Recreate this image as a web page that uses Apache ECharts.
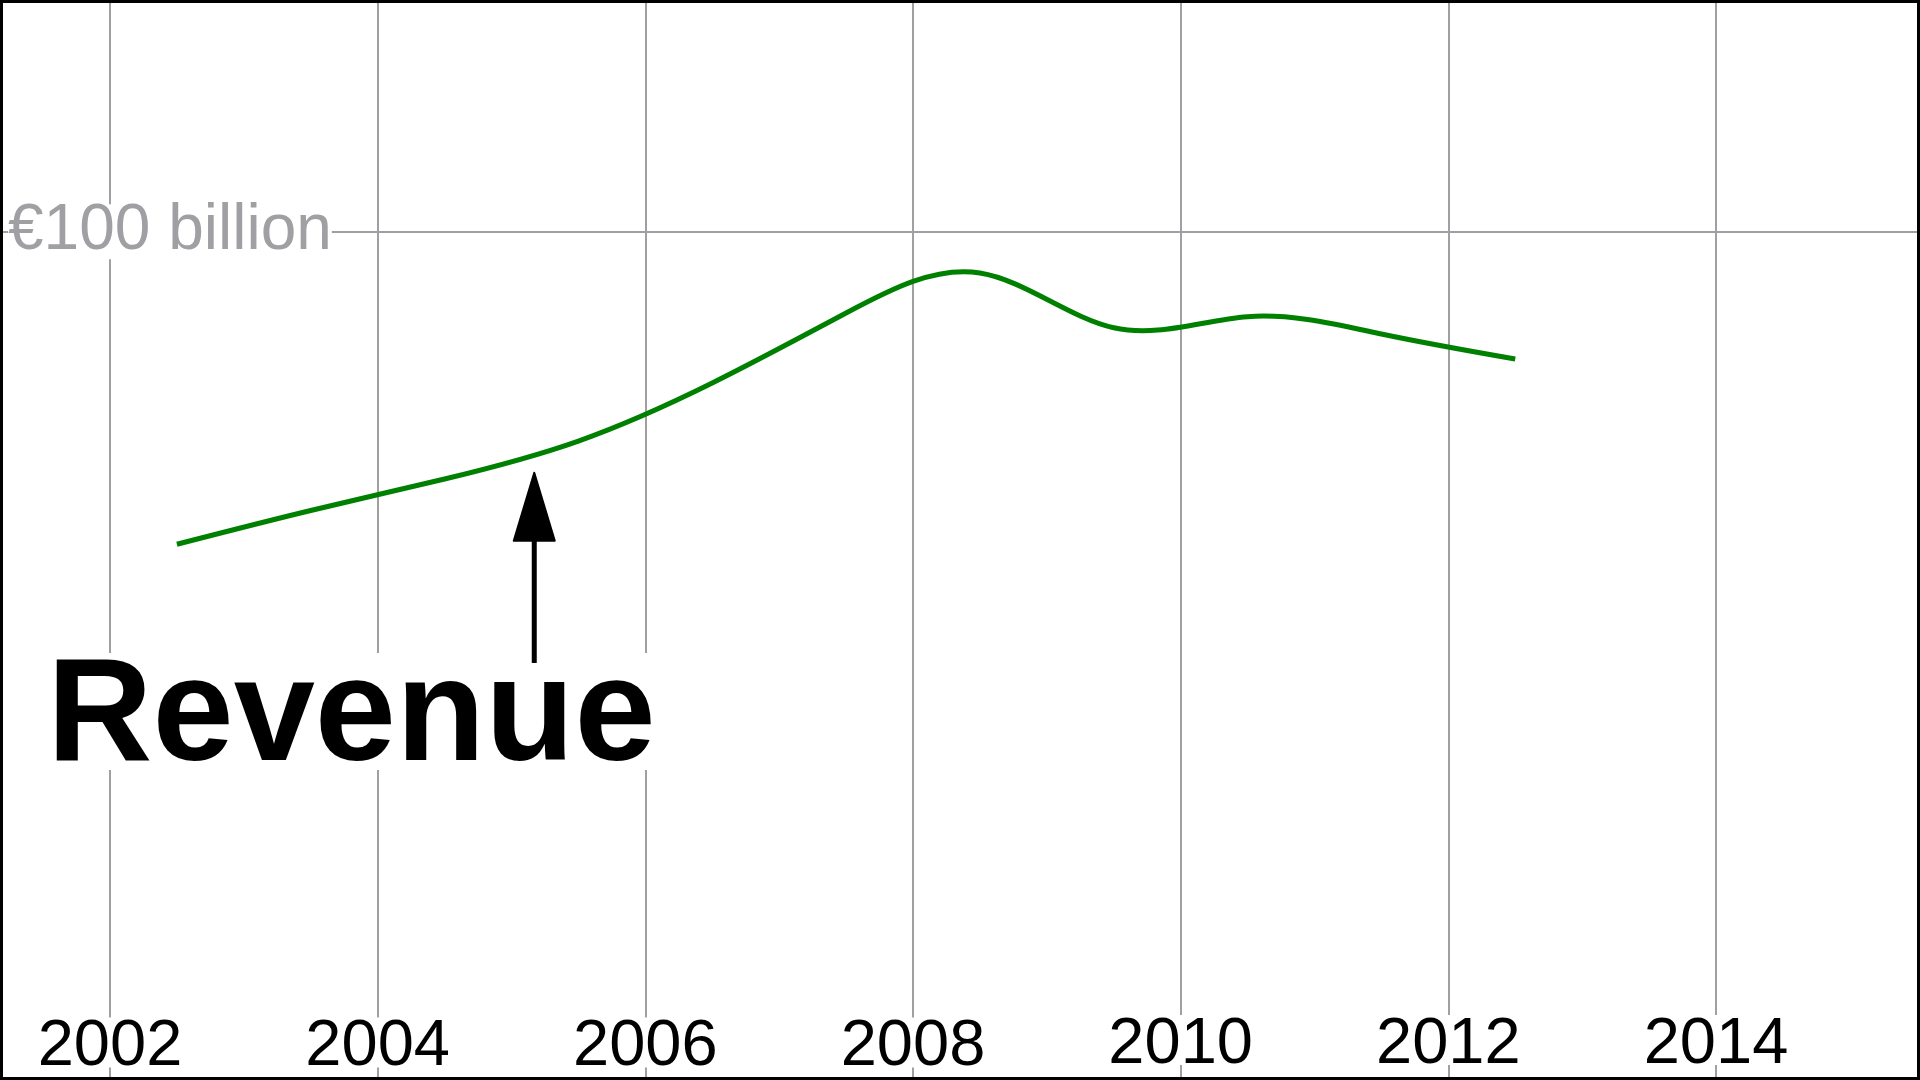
<!DOCTYPE html>
<html>
<head>
<meta charset="utf-8">
<script src="https://cdn.jsdelivr.net/npm/echarts@6/dist/echarts.min.js"></script>
<style>
html,body{margin:0;padding:0;background:#fff;}
#chart{width:1920px;height:1080px;}
</style>
</head>
<body>
<div id="chart"></div>
<script>
// ---- data ----
var years = [2002.5, 2003.5, 2004.5, 2005.5, 2006.5, 2007.5, 2008.5, 2009.5, 2010.5, 2011.5, 2012.5];
var revenue = [63.15, 67.13, 70.85, 75.32, 82.16, 90.41, 95.13, 88.68, 89.98, 87.94, 84.99]; // € billion
var xTickYears = [2002, 2004, 2006, 2008, 2010, 2012, 2014];
var xTickYearsLow = [2002, 2004, 2006, 2008];   // these labels sit slightly lower
var yTickLabel = '€100 billion';
var seriesName = 'Revenue';
var arrowYear = 2005.17;
var arrowTipValue = 71.59;
var arrowTailValue = 49.16;

var YMAX = 127.31;
var GRAY = '#a0a0a4';
var GREEN = '#008000';
var FONT = "'Liberation Sans', Arial, sans-serif";

var chart = echarts.init(document.getElementById('chart'));
var pairs = years.map(function (y, i) { return [y, revenue[i]]; });

// natural cubic spline through pixel points -> SVG path (Bezier segments)
function naturalSplinePath(pts) {
  var n = pts.length;
  var d = 'M' + pts[0][0] + ',' + pts[0][1];
  if (n < 3) { for (var k = 1; k < n; k++) d += 'L' + pts[k][0] + ',' + pts[k][1]; return d; }
  var h = [], i;
  for (i = 0; i < n - 1; i++) h.push(pts[i + 1][0] - pts[i][0]);
  var a = [], b = [], c = [], r = [];
  for (i = 1; i < n - 1; i++) {
    a.push(h[i - 1]); b.push(2 * (h[i - 1] + h[i])); c.push(h[i]);
    r.push(6 * ((pts[i + 1][1] - pts[i][1]) / h[i] - (pts[i][1] - pts[i - 1][1]) / h[i - 1]));
  }
  var m = r.length;
  for (i = 1; i < m; i++) {
    var w = a[i] / b[i - 1];
    b[i] -= w * c[i - 1];
    r[i] -= w * r[i - 1];
  }
  var Mi = new Array(m);
  Mi[m - 1] = r[m - 1] / b[m - 1];
  for (i = m - 2; i >= 0; i--) Mi[i] = (r[i] - c[i] * Mi[i + 1]) / b[i];
  var M = [0].concat(Mi).concat([0]);
  for (i = 0; i < n - 1; i++) {
    var x0 = pts[i][0], y0 = pts[i][1], x1 = pts[i + 1][0], y1 = pts[i + 1][1], hh = h[i];
    var s = (y1 - y0) / hh;
    var d0 = s - hh * (2 * M[i] + M[i + 1]) / 6;
    var d1 = s + hh * (M[i] + 2 * M[i + 1]) / 6;
    d += 'C' + (x0 + hh / 3) + ',' + (y0 + d0 * hh / 3) + ' ' + (x1 - hh / 3) + ',' + (y1 - d1 * hh / 3) + ' ' + x1 + ',' + y1;
  }
  return d;
}

function xLabelAxis(grid, list, margin) {
  return {
    gridIndex: grid, type: 'value',
    min: xTickYears[0], max: xTickYears[xTickYears.length - 1], interval: 2,
    axisLine: { show: false }, axisTick: { show: false }, splitLine: { show: false },
    axisLabel: {
      inside: true, margin: margin, color: '#000', fontFamily: FONT, fontSize: 65,
      backgroundColor: '#fff', lineHeight: 40, padding: [10, 0, 0, 0],
      formatter: function (v) { return list.indexOf(v) >= 0 ? String(v) : ''; }
    }
  };
}

var highList = xTickYears.filter(function (v) { return xTickYearsLow.indexOf(v) < 0; });

var option = {
  backgroundColor: '#ffffff',
  animation: false,
  grid: [
    { left: 0, right: 0, top: 0, bottom: 0 },
    { left: 110, right: 204, top: 0, bottom: 0 },
    { left: 110, right: 204, top: 0, bottom: 0 },
    { left: 110, right: 204, top: 0, bottom: 0 }
  ],
  xAxis: [
    { gridIndex: 0, type: 'value', min: 0, max: 1, show: false },
    {
      gridIndex: 1, type: 'value',
      min: xTickYears[0], max: xTickYears[xTickYears.length - 1], interval: 2,
      axisLine: { show: false }, axisTick: { show: false },
      splitLine: { show: true, lineStyle: { color: GRAY, width: 2 } },
      axisLabel: { show: false }
    },
    xLabelAxis(2, highList, 15),
    xLabelAxis(3, xTickYearsLow, 10)
  ],
  yAxis: [
    {
      gridIndex: 0, type: 'value', min: 0, max: YMAX, interval: 100,
      axisLine: { show: false }, axisTick: { show: false },
      splitLine: { show: true, lineStyle: { color: GRAY, width: 2 } },
      axisLabel: {
        inside: true, margin: 8, color: GRAY, fontFamily: FONT, fontSize: 64,
        align: 'left', backgroundColor: '#fff', lineHeight: 29, padding: [26, 0, 0, 0],
        showMinLabel: false, showMaxLabel: false,
        formatter: function (v) { return v === 100 ? yTickLabel : ''; }
      }
    },
    { gridIndex: 1, type: 'value', min: 0, max: YMAX, show: false },
    { gridIndex: 2, type: 'value', min: 0, max: YMAX, show: false },
    { gridIndex: 3, type: 'value', min: 0, max: YMAX, show: false }
  ],
  series: [{
    name: seriesName,
    type: 'custom',
    xAxisIndex: 1, yAxisIndex: 1,
    data: pairs,
    encode: { x: 0, y: 1 },
    clip: false,
    z: 3,
    renderItem: function (params, api) {
      if (params.dataIndex !== 0) return null;
      var pts = pairs.map(function (p) { return api.coord(p); });
      return {
        type: 'path',
        shape: { pathData: naturalSplinePath(pts) },
        style: { fill: 'none', stroke: GREEN, lineWidth: 5 }
      };
    }
  }]
};
chart.setOption(option);

// annotation anchored to data coordinates
var tip = chart.convertToPixel({ xAxisIndex: 1, yAxisIndex: 1 }, [arrowYear, arrowTipValue]);
var tail = chart.convertToPixel({ xAxisIndex: 1, yAxisIndex: 1 }, [arrowYear, arrowTailValue]);
var headH = 68, headW = 41;
chart.setOption({
  graphic: [
    { type: 'rect', z: 5, shape: { x: 44, y: 653, width: 620, height: 117 }, style: { fill: '#fff' } },
    { type: 'text', z: 6, x: 47, y: 647, style: { text: seriesName, fontFamily: FONT, fontWeight: 'bold', fontSize: 146, fill: '#000', verticalAlign: 'top', align: 'left' } },
    { type: 'line', z: 7, shape: { x1: tip[0], y1: tip[1] + headH - 2, x2: tail[0], y2: tail[1] }, style: { stroke: '#000', lineWidth: 5 } },
    { type: 'polygon', z: 7, shape: { points: [[tip[0], tip[1]], [tip[0] - headW / 2, tip[1] + headH], [tip[0] + headW / 2, tip[1] + headH]] }, style: { fill: '#000', stroke: '#000', lineWidth: 2, lineJoin: 'round' } },
    { type: 'rect', z: 10, shape: { x: 1.5, y: 1.5, width: 1917, height: 1077 }, style: { fill: 'none', stroke: '#000', lineWidth: 3 } }
  ]
});
</script>
</body>
</html>
